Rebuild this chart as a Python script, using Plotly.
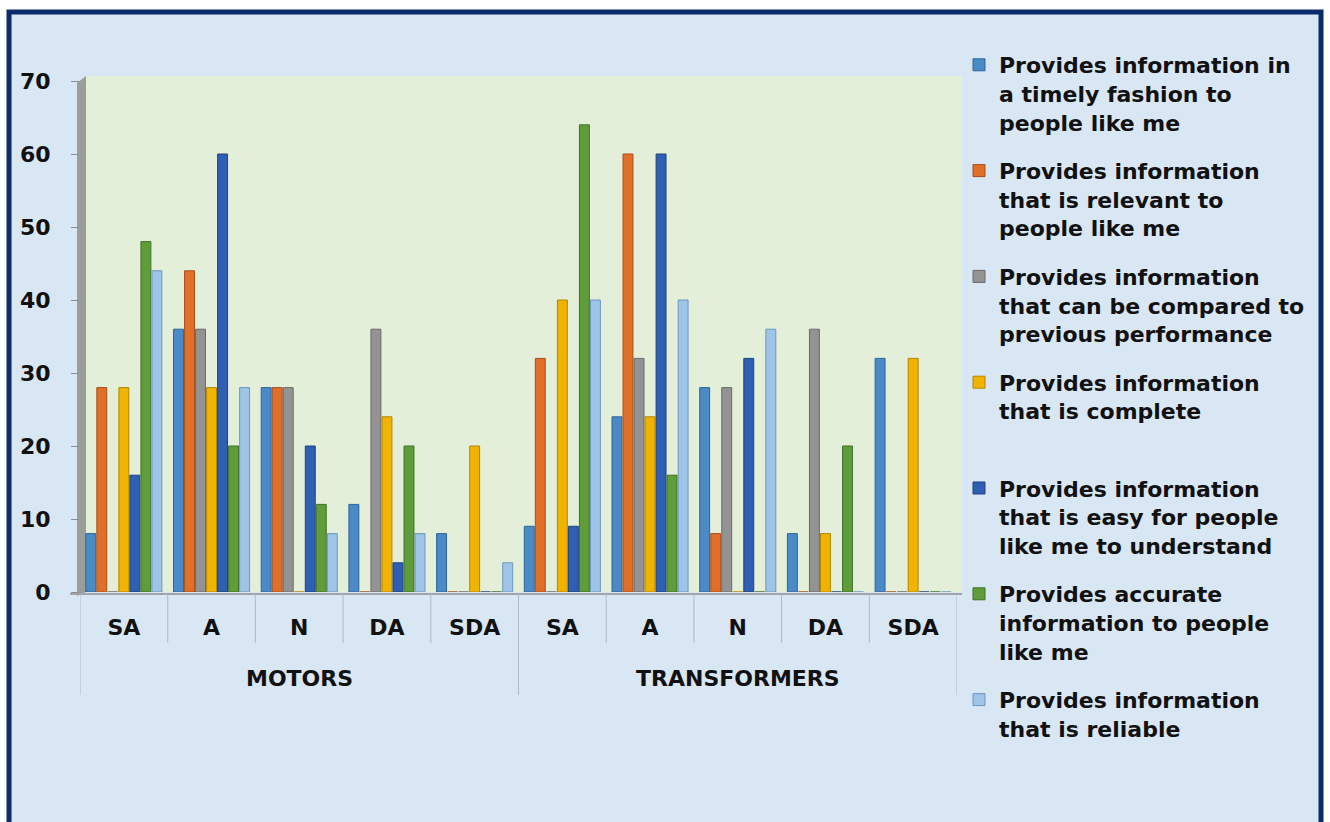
import plotly.graph_objects as go

# Survey response categories, grouped by product line
groups = ["MOTORS"] * 5 + ["TRANSFORMERS"] * 5
responses = ["SA", "A", "N", "DA", "SDA"] * 2

series_names = [
    "Provides information in<br>a timely fashion to<br>people like me",
    "Provides information<br>that is relevant to<br>people like me",
    "Provides information<br>that can be compared to<br>previous performance",
    "Provides information<br>that is complete<br>\u00a0",
    "Provides information<br>that is easy for people<br>like me to understand",
    "Provides accurate<br>information to people<br>like me",
    "Provides information<br>that is reliable",
]

timely = [8, 36, 28, 12, 8, 9, 24, 28, 8, 32]
relevant = [28, 44, 28, 0, 0, 32, 60, 8, 0, 0]
comparable = [0, 36, 28, 36, 0, 0, 32, 28, 36, 0]
complete = [28, 28, 0, 24, 20, 40, 24, 0, 8, 32]
easy = [16, 60, 20, 4, 0, 9, 60, 32, 0, 0]
accurate = [48, 20, 12, 20, 0, 64, 16, 0, 20, 0]
reliable = [44, 28, 8, 8, 4, 40, 40, 36, 0, 0]

series_values = [timely, relevant, comparable, complete, easy, accurate, reliable]

fill_colors = ["#4a8bc7", "#e07029", "#939393", "#f0b400", "#2f5fb3", "#5f9c3a", "#9ec4e8"]
edge_colors = ["#2e6596", "#a84f1a", "#6a6a6a", "#b38600", "#1e4180", "#41702a", "#6e97bd"]

y_ticks = [0, 10, 20, 30, 40, 50, 60, 70]

W, H = 1330, 822
ML, MR, MT, MB = 80, 373, 81, 230
PW, PH = W - ML - MR, H - MT - MB


def px_x(px):
    return (px - ML) / PW


def px_y(py):
    return (H - MB - py) / PH


# one slot per (group, response) pair along the category axis
slots = list(range(len(responses)))

fig = go.Figure()
for i, (name, vals, fc, ec) in enumerate(zip(series_names, series_values, fill_colors, edge_colors)):
    fig.add_trace(go.Bar(
        x=slots,
        y=vals,
        name=name,
        legendgroup=f"s{i}",
        marker=dict(color=fc, line=dict(color=ec, width=1)),
    ))

font_family = "DejaVu Sans, Verdana, sans-serif"
label_font = dict(family=font_family, size=22, color="#111111", weight="bold")
divider = dict(color="#b4b9bf", width=1)

shapes = [
    # framed light-blue panel
    dict(type="rect", xref="paper", yref="paper", layer="below",
         x0=px_x(9), x1=px_x(1321), y0=px_y(835), y1=px_y(12),
         fillcolor="#d9e6f4", line=dict(color="#0c2b6b", width=5)),
    # plot wall
    dict(type="rect", xref="paper", yref="paper", layer="below",
         x0=px_x(86), x1=px_x(962), y0=px_y(592), y1=px_y(76),
         fillcolor="#e3efd9", line=dict(width=0)),
    # 3D side wall of the value axis
    dict(type="path", xref="paper", yref="paper", layer="below",
         path=f"M {px_x(77)} {px_y(596)} L {px_x(77)} {px_y(83)} L {px_x(86)} {px_y(76)} "
              f"L {px_x(86)} {px_y(592)} Z",
         fillcolor="#9a9d98", line=dict(width=0)),
    # floor edge
    dict(type="line", xref="paper", yref="paper", layer="below",
         x0=px_x(70), x1=px_x(962), y0=px_y(594), y1=px_y(594),
         line=dict(color="#a0a4a8", width=2)),
]

# category table: short dividers between responses, tall ones around groups
annotations = []
for i in range(len(slots) + 1):
    edge = i == 0 or i == len(slots) or groups[i] != groups[i - 1]
    shapes.append(dict(type="line", xref="x", yref="paper",
                       x0=i - 0.5, x1=i - 0.5,
                       y0=px_y(594), y1=px_y(695 if edge else 643),
                       line=divider))

group_names = list(dict.fromkeys(groups))
for g in group_names:
    idx = [k for k, gg in enumerate(groups) if gg == g]
    annotations.append(dict(
        x=sum(idx) / len(idx), xref="x",
        y=px_y(678), yref="paper", yanchor="middle",
        text=g, showarrow=False, font=label_font,
    ))

fig.update_layout(
    width=W, height=H,
    margin=dict(l=ML, r=MR, t=MT, b=MB),
    paper_bgcolor="white",
    plot_bgcolor="rgba(0,0,0,0)",
    barmode="group",
    bargap=0.12,
    bargroupgap=0.1,
    font=dict(family=font_family, color="#111111", size=22),
    shapes=shapes,
    annotations=annotations,
    showlegend=True,
    legend=dict(
        x=px_x(959), xanchor="left",
        y=px_y(44), yanchor="top",
        bgcolor="rgba(0,0,0,0)",
        font=label_font,
        itemwidth=30,
        valign="top",
        tracegroupgap=17,
        traceorder="grouped",
        maxheight=800,
    ),
    xaxis=dict(
        range=[-0.5, len(slots) - 0.5],
        tickvals=slots,
        ticktext=responses,
        showgrid=False,
        showline=False,
        zeroline=False,
        tickfont=label_font,
        ticks="",
        ticklabelstandoff=20,
    ),
    yaxis=dict(
        range=[0, 70],
        tickvals=y_ticks,
        showgrid=False,
        zeroline=False,
        showline=False,
        ticks="outside",
        ticklen=8,
        tickcolor="#8a8d88",
        ticklabelstandoff=16,
        tickfont=label_font,
    ),
)

fig.write_html("out.html")
